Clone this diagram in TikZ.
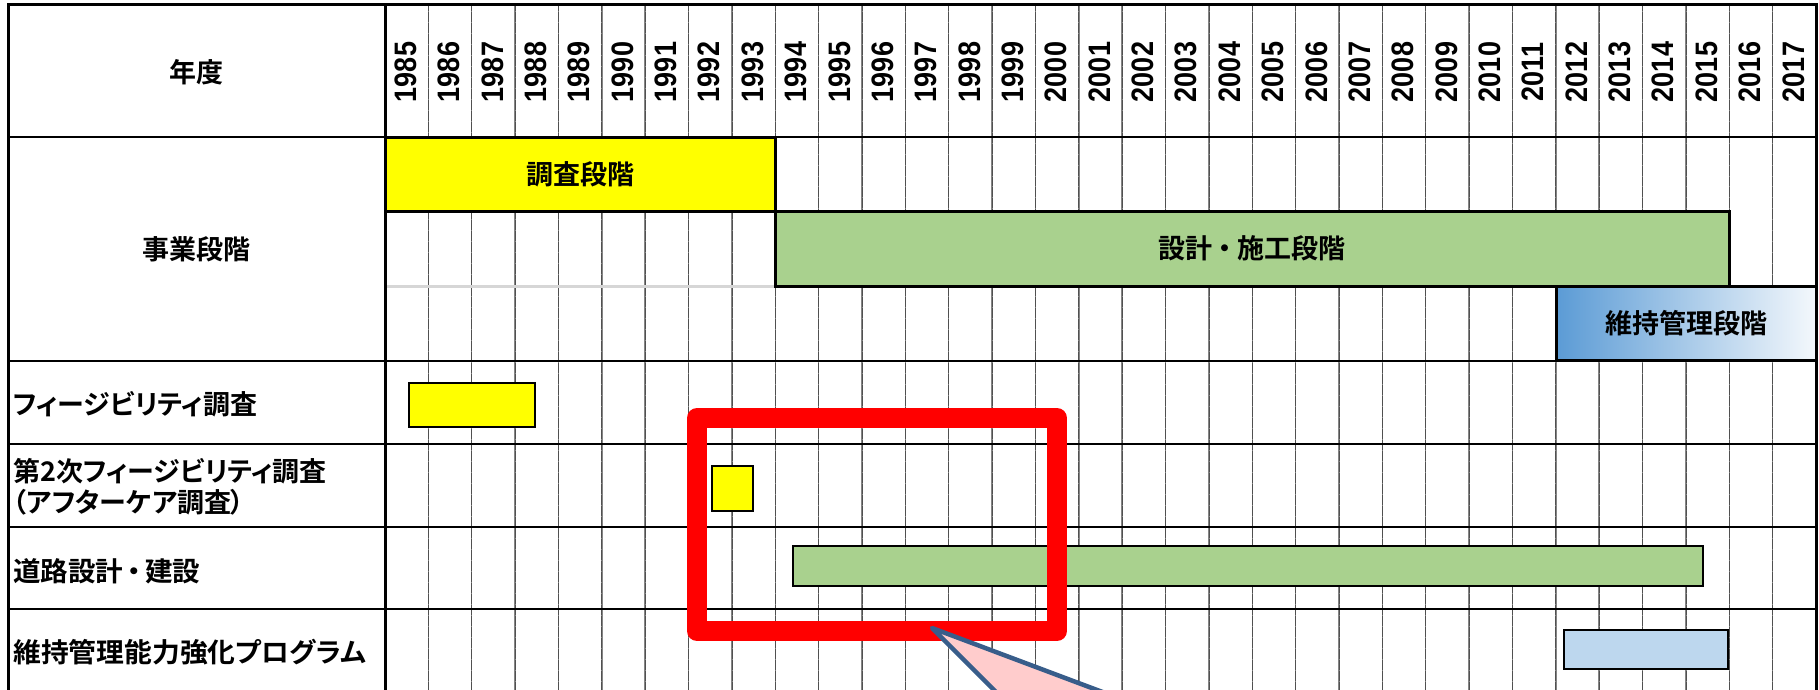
\documentclass[tikz,border=0pt]{standalone}
\usepackage{fontspec}
\newfontfamily\jp[RawFeature=+palt]{Noto Sans CJK JP Bold}
\newfontfamily\yr{Liberation Sans Bold}
\definecolor{barYellow}{HTML}{FFFF00}
\definecolor{barGreen}{HTML}{A9D18E}
\definecolor{barBlue}{HTML}{BDD7EE}
\definecolor{gradBlue}{HTML}{5B9BD5}
\definecolor{gradEnd}{HTML}{F4F8FC}
\definecolor{calloutFill}{HTML}{FFCCCC}
\definecolor{calloutLine}{HTML}{385D8A}
\definecolor{gridGray}{HTML}{858585}
\definecolor{gridDark}{HTML}{505050}
\definecolor{subGray}{HTML}{D6D6D6}
\tikzset{
  gridline/.style={draw=gridGray, line width=1.5pt},
  griddots/.style={draw=gridDark, line width=0.8pt, dash pattern=on 0.5pt off 0.6pt},
  rowline/.style={draw=black, line width=2.6pt},
  frameline/.style={draw=black, line width=3pt},
  phasebar/.style={draw=black, line width=3pt, inner sep=0pt, outer sep=0pt, anchor=north west,
    font=\jp\fontsize{27}{30}\selectfont},
  taskbar/.style={draw=black, line width=2.6pt, inner sep=0pt, outer sep=0pt, anchor=north west},
  rowlabel/.style={anchor=west, inner sep=0pt, align=left, font=\jp\fontsize{27}{31}\selectfont},
  headlabel/.style={inner sep=0pt, font=\jp\fontsize{27}{30}\selectfont},
  yearlabel/.style={rotate=90, inner sep=0pt, font=\yr\fontsize{27}{28}\selectfont},
  redbox/.style={draw=red, line width=20pt, line join=round},
  callout/.style={fill=calloutFill, draw=calloutLine, line width=4.5pt, line join=round}
}
\newcommand{\ndot}{\hspace{4pt}・\hspace{4pt}}
\begin{document}
\begin{tikzpicture}[x=1pt,y=-1pt]
\useasboundingbox (0,0) rectangle (1819,690);
\fill[white] (0,0) rectangle (1819,690);
\def\cw{43.3636}
% year grid lines
\foreach \i in {1,...,32}{
  \draw[gridline] ({385+\i*\cw},5) -- ({385+\i*\cw},695);
  \draw[griddots] ({385+\i*\cw},5) -- ({385+\i*\cw},695);
}
% sub-row divider
\draw[subGray, line width=2.2pt] (385,286.5) -- (1816,286.5);
% row lines
\foreach \yy in {137,361,444,527,609}{
  \draw[rowline] (8,\yy) -- (1816,\yy);
}
% year labels
\foreach \i [evaluate=\i as \yv using int(1985+\i)] in {0,...,32}{
  \node[yearlabel] (y\i) at ({384+(\i+0.5)*\cw},72) {\scalebox{1}[1.15]{\yv}};
}
% header labels
\node[headlabel] (nendo) at (196,72) {年度};
\node[headlabel] (jigyo) at (196,249) {事業段階};
% phase bars
\node[phasebar, fill=barYellow, minimum width=390pt, minimum height=74pt] (chosa) at (385,137) {調査段階};
\node[phasebar, fill=barGreen, minimum width=954pt, minimum height=75pt] (sekkei) at (775,211) {設計\hspace{2pt}\ndot\hspace{2pt}施工段階};
\node[phasebar, left color=gradBlue, right color=gradEnd, minimum width=260pt, minimum height=74pt] (iji) at (1556,286) {維持管理段階};
% row labels
\node[rowlabel] (lfs) at (13,404) {フィージビリティ調査};
\node[rowlabel] (lfs2) at (13,487) {第2次フィージビリティ調査\\（アフターケア調査）};
\node[rowlabel] (lroad) at (13,571) {\scalebox{1.02}[1]{道路設計\ndot 建設}};
\node[rowlabel] (lprog) at (13,652) {\scalebox{1.03}[1]{維持管理能力強化プログラム}};
% task bars
\node[taskbar, fill=barYellow, minimum width=126pt, minimum height=44pt] (bfs) at (409,383) {};
\node[taskbar, fill=barYellow, minimum width=41pt, minimum height=45pt] (bfs2) at (712,466) {};
\node[taskbar, fill=barGreen, minimum width=910pt, minimum height=40pt] (broad) at (793,546) {};
\node[taskbar, fill=barBlue, minimum width=164pt, minimum height=39pt] (bprog) at (1564,630) {};
% frame
\draw[frameline] (8,700) -- (8,5) -- (1816,5) -- (1816,700);
\draw[frameline] (385,5) -- (385,700);
% highlight box
\coordinate (hlA) at (697,418);
\coordinate (hlB) at (1057,631);
\draw[redbox] (hlA) rectangle (hlB);
% callout pointer
\coordinate (tip) at (932,628);
\coordinate (legL) at (1024,720);
\coordinate (legR) at (1177,720);
\begin{scope}
\clip (0,0) rectangle (1819,690);
\draw[callout] (tip) -- (legL) -- (legR) -- cycle;
\end{scope}
\end{tikzpicture}
\end{document}
